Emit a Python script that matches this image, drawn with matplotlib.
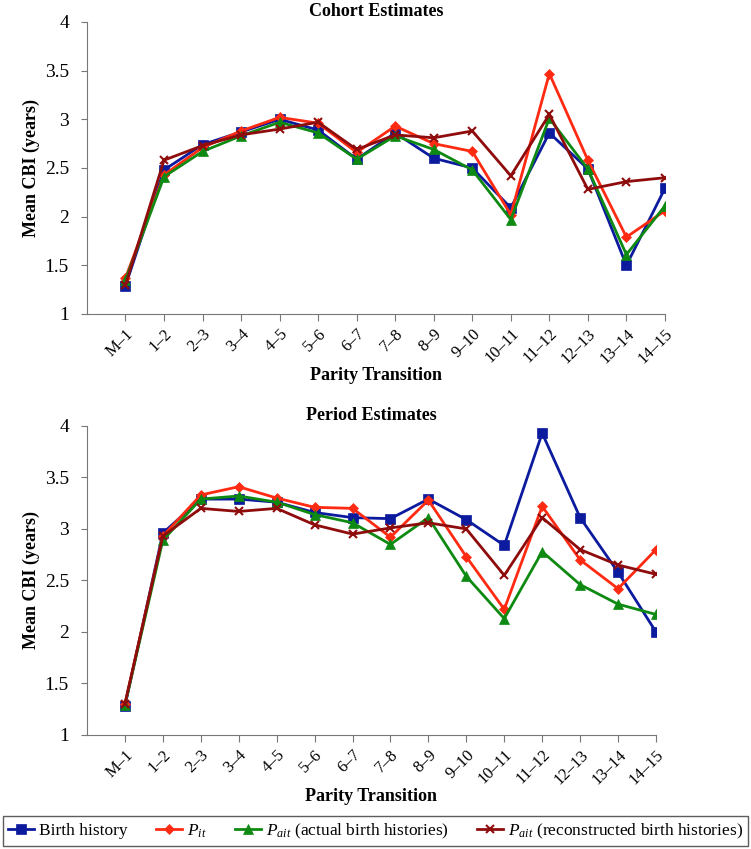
import numpy as np
import matplotlib
matplotlib.use('Agg')
import matplotlib.pyplot as plt
from matplotlib.ticker import FuncFormatter

plt.rcParams['font.family'] = ['Liberation Serif', 'DejaVu Serif']
plt.rcParams['mathtext.fontset'] = 'custom'
plt.rcParams['mathtext.it'] = 'Liberation Serif:italic'
plt.rcParams['mathtext.rm'] = 'Liberation Serif'

transitions = ['M–1', '1–2', '2–3', '3–4', '4–5', '5–6', '6–7', '7–8',
               '8–9', '9–10', '10–11', '11–12', '12–13', '13–14', '14–15']

# cohort estimates
cohort_birth = [1.29, 2.48, 2.74, 2.87, 3.00, 2.89, 2.59, 2.86, 2.60, 2.50,
                2.09, 2.86, 2.49, 1.50, 2.29]
cohort_pit = [1.37, 2.43, 2.71, 2.88, 3.02, 2.96, 2.66, 2.93, 2.75, 2.67,
              2.02, 3.47, 2.58, 1.79, 2.06]
cohort_pait_act = [1.35, 2.41, 2.67, 2.83, 2.97, 2.86, 2.59, 2.83, 2.69, 2.48,
                   1.97, 3.01, 2.49, 1.61, 2.11]
cohort_pait_rec = [1.30, 2.58, 2.73, 2.84, 2.90, 2.97, 2.69, 2.84, 2.81, 2.88,
                   2.42, 3.05, 2.28, 2.36, 2.40]

# period estimates
period_birth = [1.28, 2.96, 3.29, 3.29, 3.26, 3.16, 3.11, 3.10, 3.29, 3.09,
                2.84, 3.93, 3.11, 2.58, 2.00]
period_pit = [1.30, 2.93, 3.33, 3.41, 3.30, 3.21, 3.20, 2.92, 3.28, 2.73,
              2.22, 3.22, 2.70, 2.42, 2.80]
period_pait_act = [1.29, 2.89, 3.29, 3.32, 3.26, 3.14, 3.06, 2.85, 3.11, 2.54,
                   2.13, 2.78, 2.46, 2.27, 2.17]
period_pait_rec = [1.30, 2.93, 3.20, 3.17, 3.20, 3.04, 2.95, 3.01, 3.06, 3.00,
                   2.55, 3.11, 2.80, 2.65, 2.56]

labels = ['Birth history', r'$P_{it}$', r'$P_{ait}$ (actual birth histories)',
          r'$P_{ait}$ (reconstructed birth histories)']
colors = ['#0c1a9e', '#ff2a12', '#0e8a12', '#8e0c0c']
markers = ['s', 'D', '^', 'x']
msizes = [6.5, 5, 6.5, 6]


def draw_panel(ax, series, title):
    x = np.arange(len(transitions))
    lines = []
    for vals, c, m, ms, lab in zip(series, colors, markers, msizes, labels):
        l, = ax.plot(x, vals, color=c, marker=m, markersize=ms, lw=2,
                     markeredgewidth=1.5 if m == 'x' else 0.5, label=lab)
        lines.append(l)
    ax.set_xlim(-1, 14)
    ax.set_ylim(1, 4)
    ax.set_yticks(np.arange(1, 4.01, 0.5))
    ax.yaxis.set_major_formatter(FuncFormatter(lambda v, p: '%g' % v))
    ax.set_xticks(x)
    ax.set_xticklabels(transitions, rotation=45, ha='right',
                       rotation_mode='anchor', fontsize=12)
    ax.tick_params(axis='y', labelsize=14, length=4, pad=9, color='#777777')
    ax.tick_params(axis='x', length=5, color='#777777')
    for s in ['top', 'right']:
        ax.spines[s].set_visible(False)
    for s in ['left', 'bottom']:
        ax.spines[s].set_color('#777777')
    ax.set_title(title, fontweight='bold', fontsize=13, pad=4)
    ax.set_ylabel('Mean CBI (years)', fontweight='bold', fontsize=13, labelpad=3)
    ax.set_xlabel('Parity Transition', fontweight='bold', fontsize=13, labelpad=0)
    return lines


fig = plt.figure(figsize=(7.51, 8.49), dpi=100)
ax1 = fig.add_axes([0.1158, 0.6302, 0.7696, 0.3439])
ax2 = fig.add_axes([0.1158, 0.1343, 0.7577, 0.364])

lines = draw_panel(ax1, [cohort_birth, cohort_pit, cohort_pait_act, cohort_pait_rec],
                   'Cohort Estimates')
draw_panel(ax2, [period_birth, period_pit, period_pait_act, period_pait_rec],
           'Period Estimates')

leg = fig.legend(handles=lines, loc='center', bbox_to_anchor=(0.5, 0.021),
                 ncol=4, fontsize=12.5, frameon=True, fancybox=False,
                 handlelength=1.5, handletextpad=0.3, columnspacing=1.6,
                 borderpad=0.3, edgecolor='#333333')
leg.get_frame().set_linewidth(1.0)

fig.savefig('out.png', dpi=100)
